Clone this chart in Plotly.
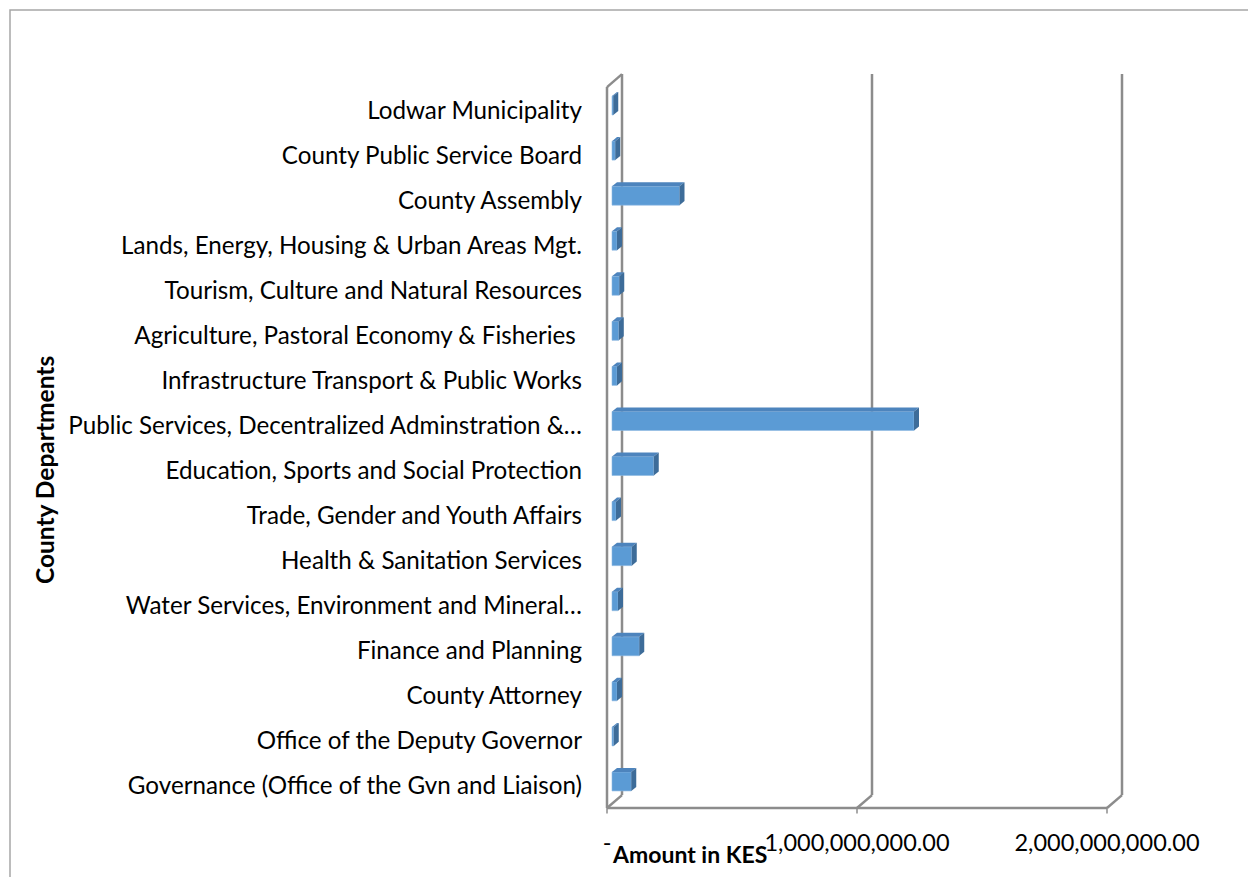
import plotly.graph_objects as go

# County departments, listed from the bottom of the chart to the top
departments = [
    "Governance (Office of the Gvn and Liaison)",
    "Office of the Deputy Governor",
    "County Attorney",
    "Finance and Planning",
    "Water Services, Environment and Mineral…",
    "Health & Sanitation Services",
    "Trade, Gender and Youth Affairs",
    "Education, Sports and Social Protection",
    "Public Services, Decentralized Adminstration &…",
    "Infrastructure Transport & Public Works",
    "Agriculture, Pastoral Economy & Fisheries\u00a0",
    "Tourism, Culture and Natural Resources",
    "Lands, Energy, Housing & Urban Areas Mgt.",
    "County Assembly",
    "County Public Service Board",
    "Lodwar Municipality",
]

# Amount per department (KES)
amounts = [
    77_000_000, 7_000_000, 20_000_000, 109_000_000, 24_000_000, 79_000_000,
    16_000_000, 167_000_000, 1_208_000_000, 20_000_000, 27_000_000,
    29_000_000, 20_000_000, 270_000_000, 13_000_000, 5_000_000,
]

x_tick_values = [0, 1_000_000_000, 2_000_000_000]
# accounting-style zero is printed as a dash
x_tick_labels = ["-", "1,000,000,000.00", "2,000,000,000.00"]

FONT = "Lato"
GRID = "#8c8c8c"
FRONT = "#5b9bd5"
TOP = "#4d84bd"
SIDE = "#3d6c99"

# 3-D look: offsets of the back wall and of the bar slab (x in KES, y in category units)
wall_dx, wall_dy = 0.06e9, 0.288
bar_base, bar_lift = 0.02e9, 0.10
bar_dx, bar_dy = 0.02e9, 0.09
bar_h = 0.42
floor = -0.49
ceiling = len(departments) - 0.49

pos = list(range(len(departments)))

fig = go.Figure()

# front faces
fig.add_trace(go.Bar(
    y=[p + bar_lift for p in pos], x=amounts, base=bar_base, orientation="h",
    width=bar_h, marker=dict(color=FRONT, line=dict(color="#8fb8e0", width=0.6)),
    hoverinfo="skip", showlegend=False,
))

# top and side faces of each bar
top_x, top_y, side_x, side_y = [], [], [], []
for p, v in zip(pos, amounts):
    x0 = bar_base
    x1 = bar_base + v
    yt = p + bar_lift + bar_h / 2
    yb = p + bar_lift - bar_h / 2
    top_x += [x0, x1, x1 + bar_dx, x0 + bar_dx, x0, None]
    top_y += [yt, yt, yt + bar_dy, yt + bar_dy, yt, None]
    side_x += [x1, x1 + bar_dx, x1 + bar_dx, x1, x1, None]
    side_y += [yb, yb + bar_dy, yt + bar_dy, yt, yb, None]

fig.add_trace(go.Scatter(x=top_x, y=top_y, mode="lines", fill="toself",
                         fillcolor=TOP, line=dict(width=0), hoverinfo="skip",
                         showlegend=False))
fig.add_trace(go.Scatter(x=side_x, y=side_y, mode="lines", fill="toself",
                         fillcolor=SIDE, line=dict(width=0), hoverinfo="skip",
                         showlegend=False))

# walls, gridlines and floor edge
shapes = []
line = dict(color=GRID, width=2.5)
for tv in x_tick_values:
    shapes.append(dict(type="line", xref="x", yref="y", layer="below",
                       x0=tv + wall_dx, x1=tv + wall_dx,
                       y0=floor + wall_dy, y1=ceiling + wall_dy, line=line))
    shapes.append(dict(type="line", xref="x", yref="y", layer="below",
                       x0=tv, x1=tv + wall_dx, y0=floor, y1=floor + wall_dy,
                       line=line))
    shapes.append(dict(type="line", xref="x", yref="y", layer="below",
                       x0=tv, x1=tv, y0=floor, y1=floor - 0.12,
                       line=dict(color=GRID, width=1.5)))
# left side wall
shapes.append(dict(type="line", xref="x", yref="y", layer="below",
                   x0=0, x1=0, y0=floor, y1=ceiling, line=line))
shapes.append(dict(type="line", xref="x", yref="y", layer="below",
                   x0=0, x1=wall_dx, y0=ceiling, y1=ceiling + wall_dy, line=line))
# front floor edge
shapes.append(dict(type="line", xref="x", yref="y", layer="below",
                   x0=0, x1=x_tick_values[-1], y0=floor, y1=floor, line=line))

# chart-area border
shapes.append(dict(type="rect", xref="paper", yref="paper",
                   x0=(10 - 597) / 540, x1=(1262 - 597) / 540,
                   y0=(826 - 895) / 770, y1=(826 - 10) / 770,
                   line=dict(color="#a6a6a6", width=1.5), fillcolor="rgba(0,0,0,0)"))

fig.update_layout(
    width=1248, height=877,
    margin=dict(l=597, r=111, t=56, b=51, autoexpand=False),
    paper_bgcolor="white", plot_bgcolor="white",
    shapes=shapes,
    font=dict(family=FONT, color="#000000", size=24),
    xaxis=dict(
        range=[-0.04e9, 2.12e9], tickvals=x_tick_values, ticktext=x_tick_labels,
        showgrid=False, zeroline=False, showline=False, ticks="",
        tickfont=dict(family=FONT, size=23.5, color="#000000"),
    ),
    yaxis=dict(
        range=[-0.888, 16.2], tickvals=pos, ticktext=departments,
        showgrid=False, zeroline=False, showline=False, ticks="",
        ticklabelstandoff=14,
        tickfont=dict(family=FONT, size=24.2, color="#000000"),
    ),
    annotations=[
        dict(text="<b>Amount in KES</b>", xref="x", yref="paper",
             x=0.01e9, y=(826 - 854) / 770, showarrow=False,
             xanchor="left", yanchor="middle",
             font=dict(family=FONT, size=23, color="#000000")),
        dict(text="<b>County Departments</b>", xref="paper", yref="paper",
             x=(44 - 597) / 540, y=(826 - 470) / 770, showarrow=False,
             textangle=-90, xanchor="center", yanchor="middle",
             font=dict(family=FONT, size=24.5, color="#000000")),
    ],
)

fig.write_html("out.html")
